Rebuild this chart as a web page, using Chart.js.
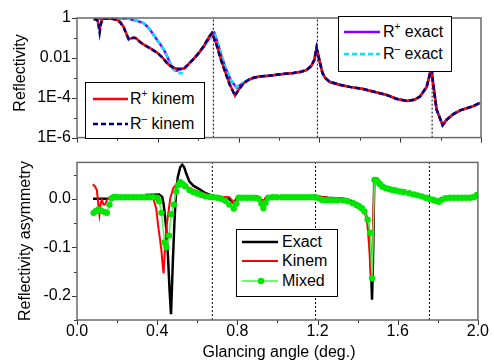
<!DOCTYPE html>
<html><head><meta charset="utf-8">
<script src="https://cdn.jsdelivr.net/npm/chart.js@4.4.0/dist/chart.umd.min.js"></script>
<style>
html,body{margin:0;padding:0;background:#fff;width:494px;height:360px;overflow:hidden;}
#wrap{position:relative;width:494px;height:360px;overflow:hidden;font-family:"Liberation Sans",Arial,sans-serif;}
#c1{position:absolute;left:0;top:0;}
#c2{position:absolute;left:0;top:150px;}
.leg{position:absolute;background:#fff;border:1px solid #000;}
.leg svg{position:absolute;left:0;top:0;}
.leg span{position:absolute;font-size:16px;line-height:20px;white-space:nowrap;color:#000;}
.leg sup{font-size:10px;line-height:10px;vertical-align:top;position:relative;top:0px;}
</style></head>
<body>
<div id="wrap">
<canvas id="c1" width="494" height="150"></canvas>
<canvas id="c2" width="494" height="220"></canvas>
<div class="leg" style="left:85px;top:82px;width:118px;height:55px">
 <svg width="118" height="55"><line x1="7" y1="16" x2="42" y2="16" stroke="#ff0000" stroke-width="2.5"/><line x1="7" y1="41" x2="42" y2="41" stroke="#000080" stroke-width="2.5" stroke-dasharray="5,3"/></svg>
 <span style="left:44px;top:6px">R<sup>+</sup> kinem</span>
 <span style="left:44px;top:31px">R<sup>–</sup> kinem</span>
</div>
<div class="leg" style="left:338px;top:16px;width:112px;height:54px">
 <svg width="112" height="54"><line x1="5" y1="15" x2="41" y2="15" stroke="#8000ff" stroke-width="2.5"/><line x1="5" y1="37" x2="41" y2="37" stroke="#00e8ff" stroke-width="2.5" stroke-dasharray="5,3"/></svg>
 <span style="left:44px;top:5px">R<sup>+</sup> exact</span>
 <span style="left:44px;top:27px">R<sup>–</sup> exact</span>
</div>
<div class="leg" style="left:236px;top:229px;width:100px;height:66px">
 <svg width="100" height="66"><line x1="5" y1="12" x2="41" y2="12" stroke="#000" stroke-width="2.5"/><line x1="5" y1="31" x2="41" y2="31" stroke="#ff0000" stroke-width="2"/><line x1="5" y1="51" x2="41" y2="51" stroke="#66ff66" stroke-width="2"/><circle cx="24" cy="51" r="3.2" fill="#00e600"/></svg>
 <span style="left:45px;top:2px">Exact</span>
 <span style="left:45px;top:21px">Kinem</span>
 <span style="left:45px;top:41px">Mixed</span>
</div>
</div>
<script>
// ---------- axes ----------
const xTicks = [0, 0.4, 0.8, 1.2, 1.6, 2.0];
const xMinor = [0.2, 0.6, 1.0, 1.4, 1.8];
const topYTicks = [1, 1e-2, 1e-4, 1e-6];
const topYLabels = ['1', '0.01', '1E-4', '1E-6'];
const topYMinor = [1e-1, 1e-3, 1e-5];
const botYTicks = [0, -0.1, -0.2];
const botYLabels = ['0.0', '-0.1', '-0.2'];
const botYMinor = [0.05, -0.05, -0.15, -0.25];
const guideX = [0.675, 1.19, 1.758];

// ---------- top panel: reflectivity ----------
const tailX = [0.95, 0.988, 1.03, 1.071, 1.11, 1.137, 1.16, 1.175, 1.186, 1.195, 1.203, 1.215, 1.228, 1.25, 1.3, 1.35, 1.417, 1.47, 1.533, 1.58, 1.632, 1.67, 1.698, 1.731, 1.745, 1.754, 1.762, 1.78, 1.81, 1.83, 1.863, 1.9, 1.962, 1.995];
const tailR = [1.26e-3, 1.41e-3, 1.58e-3, 1.74e-3, 2.0e-3, 2.5e-3, 3.98e-3, 7.9e-3, 3.16e-2, 1.26e-2, 5.6e-3, 1.78e-3, 1.0e-3, 6.3e-4, 4.5e-4, 3.5e-4, 2.75e-4, 2.0e-4, 1.38e-4, 8.9e-5, 6.9e-5, 7.9e-5, 1.15e-4, 3.5e-4, 1.26e-3, 4.0e-3, 6.3e-4, 2.6e-5, 4.2e-6, 7.9e-6, 1.5e-5, 2.4e-5, 3.8e-5, 5.5e-5];

const kinHeadX = [0.083, 0.100, 0.106, 0.112, 0.118, 0.124, 0.14, 0.16, 0.18, 0.20, 0.214, 0.231, 0.245, 0.256, 0.268, 0.28, 0.29, 0.31, 0.33, 0.36, 0.396, 0.42, 0.454, 0.48, 0.50, 0.528, 0.55, 0.578, 0.60, 0.627, 0.65, 0.668, 0.69, 0.71, 0.73, 0.755, 0.782, 0.80, 0.823, 0.85, 0.873, 0.906];
const kinPlusHead = [0.89, 0.83, 0.5, 0.28, 0.5, 0.89, 0.95, 0.93, 0.89, 0.79, 0.63, 0.355, 0.158, 0.087, 0.095, 0.105, 0.1, 0.066, 0.047, 0.0316, 0.0186, 0.0112, 4.47e-3, 3.16e-3, 2.75e-3, 2.82e-3, 4.47e-3, 8.9e-3, 1.58e-2, 3.89e-2, 0.1, 0.178, 0.05, 0.01, 2.5e-3, 5.0e-4, 1.29e-4, 2.5e-4, 5.0e-4, 7.9e-4, 1.0e-3, 1.17e-3];
const kinMinusHead = [0.89, 0.8, 0.45, 0.18, 0.45, 0.89, 0.95, 0.93, 0.89, 0.78, 0.6, 0.34, 0.15, 0.085, 0.095, 0.102, 0.098, 0.065, 0.046, 0.031, 0.0182, 0.011, 4.4e-3, 3.1e-3, 2.8e-3, 2.9e-3, 4.6e-3, 9.1e-3, 1.6e-2, 3.8e-2, 0.098, 0.175, 0.048, 0.0095, 2.4e-3, 4.8e-4, 1.3e-4, 2.5e-4, 5.0e-4, 8.0e-4, 1.0e-3, 1.18e-3];

const exHeadX = [0.083, 0.15, 0.25, 0.28, 0.30, 0.33, 0.345, 0.363, 0.38, 0.396, 0.413, 0.429, 0.445, 0.462, 0.478, 0.49, 0.505, 0.518, 0.535, 0.55, 0.578, 0.60, 0.627, 0.65, 0.68, 0.695, 0.715, 0.735, 0.76, 0.79, 0.81, 0.835, 0.86, 0.9];
const exPlusHead = [0.955, 0.955, 0.933, 0.79, 0.71, 0.55, 0.398, 0.245, 0.141, 0.081, 0.047, 0.027, 0.0126, 5.0e-3, 2.63e-3, 2.24e-3, 2.5e-3, 2.8e-3, 3.1e-3, 4.7e-3, 9.3e-3, 1.66e-2, 3.55e-2, 0.079, 0.178, 0.063, 0.0126, 3.16e-3, 7.9e-4, 3.2e-4, 4.5e-4, 6.6e-4, 8.9e-4, 1.15e-3];
const exMinusHead = [0.955, 0.955, 0.933, 0.8, 0.72, 0.56, 0.41, 0.25, 0.145, 0.083, 0.048, 0.028, 0.013, 5.2e-3, 2.6e-3, 2.1e-3, 1.74e-3, 1.66e-3, 2.8e-3, 4.6e-3, 9.2e-3, 1.65e-2, 3.5e-2, 0.078, 0.175, 0.066, 0.0135, 3.4e-3, 8.3e-4, 3.4e-4, 4.6e-4, 6.7e-4, 9.0e-4, 1.16e-3];

// ---------- bottom panel: asymmetry ----------
const exactX = [0.08, 0.33, 0.345, 0.41, 0.425, 0.432, 0.445, 0.454, 0.462, 0.469, 0.474, 0.479, 0.486, 0.492, 0.503, 0.515, 0.525, 0.535, 0.545, 0.56, 0.58, 0.61, 0.64, 0.67, 0.70, 0.75, 0.77, 0.782, 0.80, 0.85, 0.90, 0.93, 0.945, 1.0, 1.2, 1.25, 1.33, 1.38, 1.41, 1.435, 1.45, 1.46, 1.468, 1.472, 1.478, 1.483, 1.5, 1.525, 1.574, 1.657, 1.72, 1.756, 1.805, 1.84, 1.9, 1.99];
const exactA = [0, 0, 0.008, 0.009, 0.004, -0.01, -0.06, -0.12, -0.19, -0.238, -0.18, -0.12, -0.05, 0, 0.045, 0.065, 0.07, 0.065, 0.052, 0.036, 0.027, 0.02, 0.012, 0.007, 0.004, 0.002, -0.004, -0.009, 0.003, 0.004, 0.004, -0.006, 0.003, 0.004, 0.004, 0.002, 0.0, -0.006, -0.013, -0.024, -0.045, -0.08, -0.16, -0.208, -0.1, 0.039, 0.036, 0.025, 0.018, 0.012, 0.005, 0, -0.005, 0.002, 0.003, 0.006];

const kinX = [0.079, 0.09, 0.099, 0.106, 0.112, 0.118, 0.124, 0.132, 0.14, 0.15, 0.16, 0.2, 0.38, 0.395, 0.404, 0.413, 0.421, 0.428, 0.432, 0.438, 0.444, 0.449, 0.465, 0.48, 0.5, 0.512, 0.53, 0.561, 0.6, 0.627, 0.67, 0.72, 0.76, 0.775, 0.785, 0.8, 0.9, 0.93, 0.945, 1.2, 1.25, 1.33, 1.38, 1.41, 1.435, 1.448, 1.458, 1.465, 1.472, 1.478, 1.483, 1.5, 1.525, 1.574, 1.657, 1.756, 1.805, 1.84, 1.99];
const kinA = [0.03, 0.025, 0.018, -0.01, -0.032, -0.01, -0.002, -0.012, -0.012, -0.002, 0.002, 0.002, 0.002, -0.02, -0.053, -0.08, -0.106, -0.14, -0.154, -0.11, -0.07, -0.05, 0.0, 0.022, 0.032, 0.035, 0.03, 0.022, 0.015, 0.012, 0.006, 0.004, 0.003, -0.004, -0.01, 0.004, 0.005, -0.006, 0.004, 0.005, 0.002, -0.001, -0.008, -0.015, -0.027, -0.05, -0.1, -0.155, -0.15, -0.05, 0.038, 0.036, 0.026, 0.019, 0.012, 0.001, -0.004, 0.003, 0.006];

const mixX = [0.083, 0.095, 0.107, 0.12, 0.135, 0.149, 0.162, 0.173, 0.185, 0.20, 0.22, 0.24, 0.26, 0.28, 0.30, 0.32, 0.34, 0.36, 0.38, 0.40, 0.41, 0.421, 0.437, 0.446, 0.459, 0.470, 0.483, 0.495, 0.505, 0.515, 0.528, 0.54, 0.561, 0.58, 0.60, 0.62, 0.64, 0.66, 0.68, 0.70, 0.72, 0.74, 0.76, 0.782, 0.795, 0.807, 0.825, 0.845, 0.865, 0.885, 0.905, 0.92, 0.93, 0.94, 0.955, 0.975, 0.995, 1.02, 1.04, 1.06, 1.08, 1.10, 1.12, 1.14, 1.16, 1.18, 1.20, 1.22, 1.24, 1.26, 1.28, 1.30, 1.327, 1.35, 1.376, 1.395, 1.409, 1.422, 1.434, 1.45, 1.462, 1.472, 1.484, 1.492, 1.50, 1.512, 1.525, 1.54, 1.557, 1.574, 1.59, 1.61, 1.63, 1.657, 1.68, 1.70, 1.72, 1.74, 1.756, 1.775, 1.79, 1.805, 1.82, 1.838, 1.86, 1.88, 1.90, 1.92, 1.94, 1.96, 1.98, 1.995];
const mixA = [-0.029, -0.025, -0.022, -0.024, -0.027, -0.029, -0.012, 0.001, 0.004, 0.003, 0.003, 0.003, 0.003, 0.003, 0.003, 0.003, 0.003, 0.003, 0.003, 0.002, -0.005, -0.029, -0.09, -0.1, -0.076, -0.032, -0.012, 0.015, 0.028, 0.034, 0.03, 0.026, 0.018, 0.014, 0.011, 0.008, 0.005, 0.004, 0.003, 0.002, 0.0, -0.004, -0.012, -0.02, -0.01, 0.002, 0.002, 0.002, 0.002, 0.002, 0.0, -0.01, -0.019, -0.008, 0.002, 0.003, 0.003, 0.003, 0.003, 0.003, 0.003, 0.003, 0.003, 0.003, 0.003, 0.003, 0.002, -0.002, -0.003, -0.003, -0.003, -0.003, -0.003, -0.005, -0.009, -0.013, -0.016, -0.02, -0.026, -0.043, -0.07, -0.164, 0.039, 0.039, 0.035, 0.03, 0.025, 0.022, 0.02, 0.018, 0.017, 0.015, 0.014, 0.0115, 0.009, 0.007, 0.005, 0.002, 0.0, -0.002, -0.004, -0.006, -0.002, 0.001, 0.002, 0.002, 0.002, 0.002, 0.002, 0.002, 0.003, 0.008];

// ---------- helpers ----------
const FONT = '"Liberation Sans", Arial, sans-serif';
const pts = (xs, ys) => xs.map((x, i) => ({x: x, y: ys[i]}));
const line = (data, color, w, dash, order) => ({data, borderColor: color, borderWidth: w, borderDash: dash || [], pointRadius: 0, fill: false, tension: 0, order});
const guides = (lo, hi) => guideX.map(g => ({data: [{x: g, y: lo}, {x: g, y: hi}], borderColor: '#000', borderWidth: 1, borderDash: [2, 2], pointRadius: 0, fill: false, order: 20}));

const axisDeco = {
  id: 'axisDeco',
  afterDatasetsDraw(chart, args, o) {
    const {ctx, chartArea: a, scales: {x, y}} = chart;
    ctx.save();
    ctx.strokeStyle = '#333'; ctx.lineWidth = 1;
    ctx.beginPath();
    const tx = (v, l) => { const p = Math.round(x.getPixelForValue(v)) + 0.5; ctx.moveTo(p, a.bottom); ctx.lineTo(p, a.bottom + l); };
    const ty = (v, l) => { const p = Math.round(y.getPixelForValue(v)) + 0.5; ctx.moveTo(a.left, p); ctx.lineTo(a.left - l, p); };
    o.xMajor.forEach(v => tx(v, 5)); o.xMinor.forEach(v => tx(v, 3));
    o.yMajor.forEach(v => ty(v, 5)); o.yMinor.forEach(v => ty(v, 3));
    ctx.stroke();
    ctx.strokeStyle = '#6a6a6a'; ctx.lineWidth = 1.5;
    ctx.strokeRect(a.left, a.top, a.right - a.left, a.bottom - a.top);
    ctx.restore();
  }
};

// axis titles, placed like the original figure
const axisTitles = {
  id: 'axisTitles',
  afterDraw(chart, args, o) {
    const ctx = chart.ctx;
    ctx.save();
    ctx.fillStyle = '#000'; ctx.font = '16px ' + FONT;
    ctx.textAlign = 'center'; ctx.textBaseline = 'middle';
    o.items.forEach(t => { ctx.save(); ctx.translate(t.x, t.y); ctx.rotate(t.rot || 0); ctx.fillText(t.text, 0, 0); ctx.restore(); });
    ctx.restore();
  }
};

const noGrid = {display: false, drawTicks: false, tickLength: 0};
const noBorder = {display: false};
const tickFont = {family: FONT, size: 16, lineHeight: 0.8};

// ---------- top chart ----------
new Chart(document.getElementById('c1'), {
  type: 'line',
  data: {datasets: [
    line(pts(kinHeadX.concat(tailX), kinMinusHead.concat(tailR)), '#000080', 2.5, [5, 3], 0),
    line(pts(kinHeadX.concat(tailX), kinPlusHead.concat(tailR)), '#ff0000', 2.5, [], 1),
    line(pts(exHeadX.concat(tailX), exMinusHead.concat(tailR)), '#00e8ff', 2.5, [5, 3], 2),
    line(pts(exHeadX.concat(tailX), exPlusHead.concat(tailR)), '#8000ff', 2.5, [], 3),
    ...guides(1e-6, 1)
  ]},
  options: {
    responsive: false, animation: false, devicePixelRatio: 1,
    layout: {padding: {left: 0, right: 13, top: 18, bottom: 0}},
    plugins: {legend: {display: false}, tooltip: {enabled: false},
      axisDeco: {xMajor: xTicks, xMinor: xMinor, yMajor: topYTicks, yMinor: topYMinor},
      axisTitles: {items: [{text: 'Reflectivity', x: 20.5, y: 73, rot: -Math.PI / 2}]}},
    scales: {
      x: {type: 'linear', min: 0, max: 2, grid: noGrid, border: noBorder, ticks: {display: false},
          afterFit(s) { s.height = 7; }},
      y: {type: 'logarithmic', min: 1e-6, max: 1, grid: noGrid, border: noBorder,
          afterBuildTicks(s) { s.ticks = topYTicks.map(v => ({value: v})); },
          ticks: {callback: (v, i) => topYLabels[i], color: '#000', padding: 6, font: tickFont},
          afterFit(s) { s.width = 77; }}
    }
  },
  plugins: [axisDeco, axisTitles]
});

// ---------- bottom chart ----------
new Chart(document.getElementById('c2'), {
  type: 'line',
  data: {datasets: [
    Object.assign(line(pts(mixX, mixA), '#55f055', 1.5, [], 0), {pointRadius: 3.2, pointBackgroundColor: '#00e600', pointBorderWidth: 0}),
    line(pts(kinX, kinA), '#ff0000', 2, [], 1),
    line(pts(exactX, exactA), '#000000', 2.5, [], 2),
    ...guides(-0.25, 0.075)
  ]},
  options: {
    responsive: false, animation: false, devicePixelRatio: 1,
    layout: {padding: {left: 0, right: 13, top: 8, bottom: 0}},
    plugins: {legend: {display: false}, tooltip: {enabled: false},
      axisDeco: {xMajor: xTicks, xMinor: xMinor, yMajor: botYTicks, yMinor: botYMinor},
      axisTitles: {items: [
        {text: 'Reflectivity asymmetry', x: 26, y: 91, rot: -Math.PI / 2},
        {text: 'Glancing angle (deg.)', x: 279, y: 203, rot: 0}
      ]}},
    scales: {
      x: {type: 'linear', min: 0, max: 2, grid: noGrid, border: noBorder,
          afterBuildTicks(s) { s.ticks = xTicks.map(v => ({value: v})); },
          ticks: {callback: v => v.toFixed(1), autoSkip: false, maxRotation: 0, color: '#000', padding: 5, font: tickFont},
          afterFit(s) { s.height = 50; }},
      y: {type: 'linear', min: -0.25, max: 0.075, grid: noGrid, border: noBorder,
          afterBuildTicks(s) { s.ticks = botYTicks.map(v => ({value: v})); },
          ticks: {callback: (v, i) => botYLabels[i], color: '#000', padding: 6, font: tickFont},
          afterFit(s) { s.width = 77; }}
    }
  },
  plugins: [axisDeco, axisTitles]
});
</script>
</body></html>
